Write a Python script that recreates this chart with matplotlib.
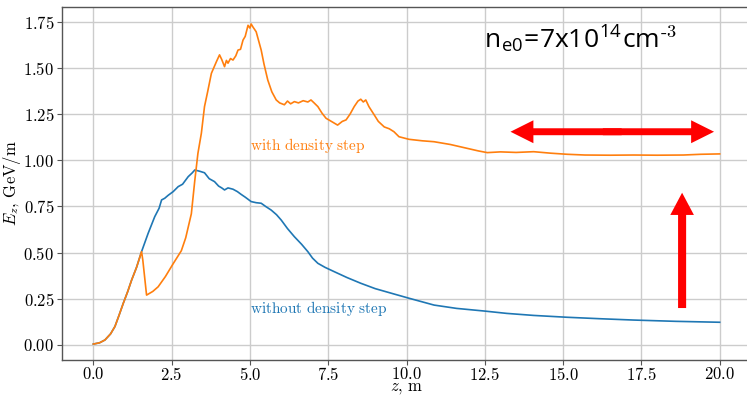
import matplotlib
matplotlib.use("Agg")
import matplotlib.pyplot as plt
from matplotlib.patches import FancyArrowPatch

# ---- data ----
z_with = [0.0, 0.2, 0.37, 0.55, 0.69, 0.82, 0.955, 1.1, 1.22, 1.38, 1.54, 1.58, 1.70, 1.9, 2.07,
          2.3, 2.55, 2.81, 2.95, 3.13, 3.24, 3.34, 3.45, 3.55, 3.65, 3.77, 3.93, 4.03, 4.1, 4.19,
          4.25, 4.30, 4.38, 4.46, 4.55, 4.62, 4.70, 4.78, 4.85, 4.94, 5.0, 5.04, 5.10, 5.20, 5.36,
          5.45, 5.57, 5.70, 5.84, 5.95, 6.10, 6.2, 6.3, 6.42, 6.55, 6.7, 6.85, 6.95, 7.05, 7.17,
          7.3, 7.43, 7.6, 7.80, 7.95, 8.07, 8.2, 8.33, 8.45, 8.54, 8.62, 8.70, 8.8, 8.97, 9.1,
          9.29, 9.45, 9.60, 9.76, 10.08, 10.5, 10.88, 11.4, 11.94, 12.3, 12.58, 13.0, 13.5, 14.06,
          14.6, 15.13, 15.7, 16.5, 17.25, 18.0, 18.84, 19.4, 20.0]
e_with = [0.005, 0.012, 0.027, 0.06, 0.10, 0.16, 0.225, 0.29, 0.35, 0.42, 0.505, 0.46, 0.27, 0.29, 0.315,
          0.37, 0.44, 0.51, 0.58, 0.71, 0.89, 1.037, 1.146, 1.29, 1.37, 1.47, 1.533, 1.57, 1.545, 1.506,
          1.54, 1.525, 1.55, 1.542, 1.565, 1.596, 1.60, 1.65, 1.67, 1.73, 1.715, 1.737, 1.72, 1.695, 1.596,
          1.52, 1.434, 1.37, 1.326, 1.31, 1.30, 1.32, 1.305, 1.317, 1.31, 1.322, 1.315, 1.326, 1.31, 1.29,
          1.255, 1.227, 1.21, 1.19, 1.21, 1.218, 1.25, 1.29, 1.32, 1.33, 1.315, 1.326, 1.29, 1.245, 1.21,
          1.18, 1.17, 1.154, 1.127, 1.113, 1.105, 1.10, 1.085, 1.064, 1.05, 1.041, 1.045, 1.042, 1.046,
          1.038, 1.032, 1.028, 1.027, 1.028, 1.027, 1.028, 1.032, 1.034]

z_without = [0.0, 0.2, 0.37, 0.55, 0.69, 0.82, 0.955, 1.1, 1.22, 1.38, 1.54, 1.75, 1.96, 2.1, 2.18,
             2.28, 2.39, 2.55, 2.71, 2.85, 3.03, 3.15, 3.24, 3.4, 3.55, 3.7, 3.87, 4.0, 4.1, 4.19,
             4.3, 4.46, 4.6, 4.72, 4.85, 5.04, 5.2, 5.36, 5.5, 5.68, 5.85, 6.0, 6.2, 6.42, 6.65,
             6.85, 7.0, 7.17, 7.4, 7.69, 8.1, 8.54, 9.0, 9.6, 10.08, 10.88, 11.6, 12.47, 13.2,
             14.06, 15.13, 16.2, 17.25, 18.6, 20.0]
e_without = [0.005, 0.012, 0.027, 0.06, 0.10, 0.16, 0.225, 0.29, 0.35, 0.42, 0.505, 0.604, 0.694, 0.74, 0.785,
             0.794, 0.81, 0.83, 0.857, 0.87, 0.911, 0.93, 0.947, 0.94, 0.932, 0.90, 0.884, 0.86, 0.85, 0.839,
             0.85, 0.843, 0.83, 0.815, 0.80, 0.776, 0.77, 0.767, 0.75, 0.73, 0.705, 0.676, 0.63, 0.586, 0.545,
             0.505, 0.47, 0.442, 0.42, 0.397, 0.365, 0.334, 0.305, 0.276, 0.253, 0.216, 0.198, 0.184, 0.171,
             0.16, 0.15, 0.142, 0.135, 0.128, 0.123]

x_ticks = [0.0, 2.5, 5.0, 7.5, 10.0, 12.5, 15.0, 17.5, 20.0]
y_ticks = [0.00, 0.25, 0.50, 0.75, 1.00, 1.25, 1.50, 1.75]

plt.rcParams['font.family'] = 'serif'
plt.rcParams['font.serif'] = ['cmr10', 'DejaVu Serif']
plt.rcParams['mathtext.fontset'] = 'cm'
plt.rcParams['axes.formatter.use_mathtext'] = True

fig = plt.figure(figsize=(7.47, 3.96), dpi=100)
ax = fig.add_axes([62/747, 36/396, (751-62)/747, (360-7)/396])

ax.plot(z_without, e_without, color='#1f77b4', lw=1.2)
ax.plot(z_with, e_with, color='#ff7f0e', lw=1.2)

ax.set_xlim(-1, 21)
ax.set_ylim(-0.0812, 1.829)
ax.set_xticks(x_ticks)
ax.set_yticks(y_ticks)
ax.set_xticklabels([f"${v:.1f}$" for v in x_ticks])
ax.set_yticklabels([f"${v:.2f}$" for v in y_ticks])
ax.tick_params(labelsize=12, length=3.5, width=0.8, color='#555555', pad=2)
ax.tick_params(axis='x', pad=1)
ax.grid(True, color='#cccccc', lw=1.0)
ax.set_axisbelow(True)
for s in ax.spines.values():
    s.set_color('#555555')
    s.set_linewidth(1.0)

ax.set_xlabel(r'$z$, $\mathrm{m}$', fontsize=12, labelpad=-1.5)
ax.set_ylabel(r'$E_z$, $\mathrm{GeV/m}$', fontsize=12, labelpad=0)

ax.text(5.0, 1.077, r'$\mathrm{with\ density\ step}$', color='#ff7f0e', fontsize=11, va='center', ha='left')
ax.text(5.0, 0.195, r'$\mathrm{without\ density\ step}$', color='#1f77b4', fontsize=11, va='center', ha='left')

ax.text(12.46, 1.613, r'n$_{\mathregular{e0}}$=7x10$^{\mathregular{14}}$cm$^{\text{-3}}$',
        family='Open Sans', fontsize=19, va='baseline', ha='left', color='black')

red = '#ff0000'
xc = (13.32 + 19.82) / 2
for x_start, x_end in ((xc + 0.3, 13.32), (xc - 0.3, 19.82)):
    ax.add_patch(FancyArrowPatch((x_start, 1.154), (x_end, 1.154),
                                 arrowstyle='simple,head_length=16.5,head_width=16.5,tail_width=5',
                                 mutation_scale=1, color=red, lw=0, shrinkA=0, shrinkB=0))
ax.add_patch(FancyArrowPatch((18.8, 0.20), (18.8, 0.824),
                             arrowstyle='simple,head_length=16,head_width=17,tail_width=5.8',
                             mutation_scale=1, color=red, lw=0, shrinkA=0, shrinkB=0))

fig.savefig('out.png', dpi=100)
